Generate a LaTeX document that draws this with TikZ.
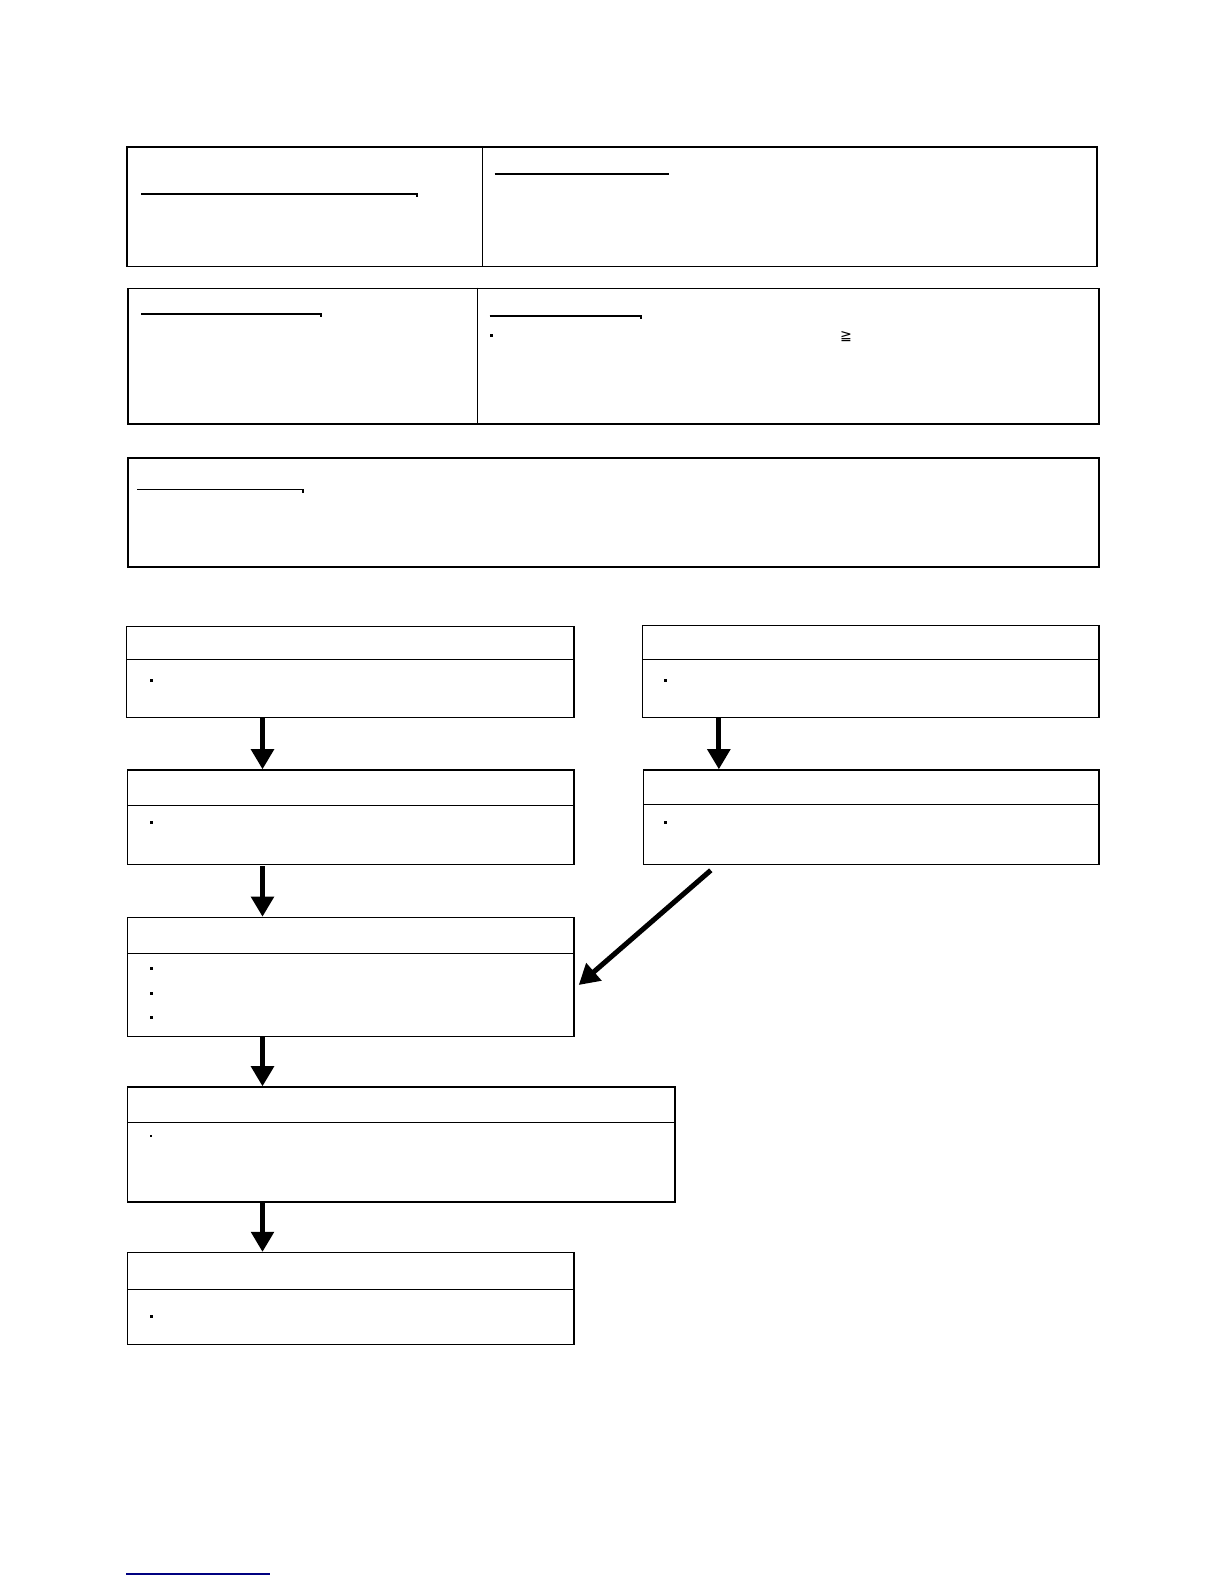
\documentclass[tikz,border=0pt]{standalone}
\usepackage{fontspec}
\newfontfamily\dvs{DejaVu Sans}
\usetikzlibrary{arrows.meta,calc}
\begin{document}
\begin{tikzpicture}[x=1pt,y=-1pt,
  box/.style={draw,line width=1.5pt,inner sep=0pt,anchor=north west},
  flow/.style={draw,line width=1.2pt,inner sep=0pt,anchor=north west},
  uline/.style={line width=1.3pt},
  bigarrow/.style={line width=5pt,-{Triangle[width=22pt,length=20pt]}},
  dotmark/.style={fill,inner sep=0pt,minimum size=3pt}]
\useasboundingbox (0,0) rectangle (1212.3,1568.9);
% top boxes
\node[box,minimum width=961pt,minimum height=118pt] (T1) at (125,145) {};
\draw[line width=1.2pt] (478,145) -- (478,263);
\draw[uline] (140,192) -- (413,192) -- (413,195);
\draw[uline,line width=2pt] (490,172) -- (663,172);
\node[box,minimum width=962pt,minimum height=134pt] (T2) at (126,285) {};
\draw[line width=0.8pt] (473,285) -- (473,419);
\draw[uline] (140,311) -- (318,311) -- (318,314);
\draw[uline] (485,313) -- (635,313) -- (635,316);
\node[dotmark] (d0) at (487,332) {};
\node[inner sep=0pt] (geq) at (838,333) {\dvs\fontsize{14}{14}\selectfont ≧};
\node[box,minimum width=962pt,minimum height=108pt] (T3) at (126,453) {};
\draw[uline] (136,485) -- (300,485) -- (300,488);
% flow boxes
\node[flow,minimum width=443pt,minimum height=90pt] (A) at (125,620) {};
\draw[line width=1.2pt] (125,653) -- (568,653);
\node[dotmark] (dA) at (150,674) {};
\node[flow,minimum width=452pt,minimum height=91pt] (B) at (636,619) {};
\draw[line width=1.2pt] (636,653) -- (1088,653);
\node[dotmark] (dB) at (659,674) {};
\node[flow,minimum width=442pt,minimum height=94pt] (C) at (126,762) {};
\draw[line width=1.2pt] (126,798) -- (568,798);
\node[dotmark] (dC) at (150,815) {};
\node[flow,minimum width=451pt,minimum height=94pt] (D) at (637,762) {};
\draw[line width=1pt] (637,797) -- (1088,797);
\node[dotmark] (dD) at (659,815) {};
\node[flow,minimum width=442pt,minimum height=118pt] (E) at (126,908) {};
\draw[line width=1pt] (126,944) -- (568,944);
\node[dotmark] at (150,959) {};
\node[dotmark] at (150,984) {};
\node[dotmark] at (150,1008) {};
\node[flow,minimum width=542pt,minimum height=114pt] (F) at (126,1076) {};
\draw[line width=1.2pt] (126,1112) -- (668,1112);
\node[dotmark,minimum size=2pt] at (150,1125) {};
\node[flow,minimum width=442pt,minimum height=91pt] (G) at (126,1240) {};
\draw[line width=1pt] (126,1277) -- (568,1277);
\node[dotmark] at (150,1304) {};
% arrows
\draw[bigarrow] (A.south west -| 260,0) -- (C.north west -| 260,0);
\draw[bigarrow] (B.south west -| 712,0) -- (D.north west -| 712,0);
\draw[bigarrow] ($(C.south west)+(134,1)$) -- (E.north west -| 260,0);
\draw[bigarrow] (E.south west -| 260,0) -- (F.north west -| 260,0);
\draw[bigarrow] (F.south west -| 260,0) -- (G.north west -| 260,0);
\coordinate (dstart) at (704,862);
\draw[bigarrow] (dstart) -- ($(E.east)+(4,8)$);
% bottom line
\draw[line width=1.3pt,color=blue!50!black] (125,1559) -- (267,1559);
\end{tikzpicture}
\end{document}
